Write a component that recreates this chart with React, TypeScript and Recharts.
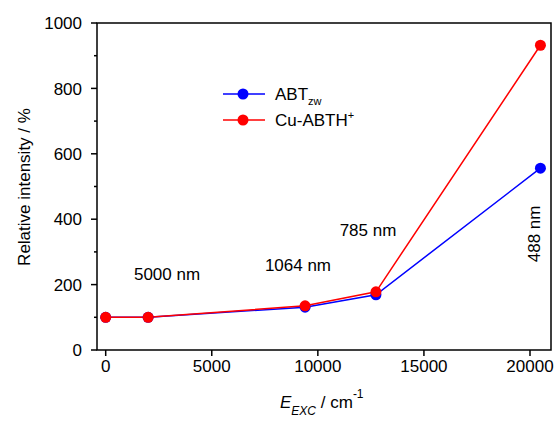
import React from 'react';
import { LineChart, Line, XAxis, YAxis, ReferenceArea, ReferenceDot, Customized } from 'recharts';

const excitation = [0, 2000, 9398, 12739, 20492];
const abtZw = [100, 100, 131, 169, 556];
const cuAbth = [100, 100, 135, 178, 932];
const xTicks = [0, 5000, 10000, 15000, 20000];
const yTicks = [0, 100, 200, 300, 400, 500, 600, 700, 800, 900, 1000];
const yLabelTicks = [0, 200, 400, 600, 800, 1000];
const annoLabels = ['5000 nm', '1064 nm', '785 nm', '488 nm'];
const annoX = [2890, 9063, 12364, 20172];
const annoY = [232, 260, 367, 355];
const annoAngle = [0, 0, 0, -90];

const data = excitation.map((x, i) => ({ x, abt: abtZw[i], cu: cuAbth[i] }));

const FONT = '"Liberation Sans", Arial, sans-serif';
const FS = 17;

const YTick = (props: any) => {
  const { x, y, payload } = props;
  const v = payload.value;
  const major = yLabelTicks.includes(v);
  return (
    <g>
      <line x1={x} x2={x - (major ? 6 : 3)} y1={y} y2={y} stroke="#000" strokeWidth={1.5} />
      {major && (
        <text x={x - 15} y={y} dy="0.36em" textAnchor="end" fontSize={FS} fontFamily={FONT} fill="#000">
          {v}
        </text>
      )}
    </g>
  );
};

const XTick = (props: any) => {
  const { x, y, payload } = props;
  return (
    <g>
      <line x1={x} x2={x} y1={y} y2={y + 6} stroke="#000" strokeWidth={1.5} />
      <text x={x} y={y + 22} textAnchor="middle" fontSize={FS} fontFamily={FONT} fill="#000">
        {payload.value}
      </text>
    </g>
  );
};

const Extras = () => (
  <g fontFamily={FONT} fill="#000">
    {/* Y axis title */}
    <text x={30} y={187} transform="rotate(-90 30 187)" textAnchor="middle" fontSize={FS}>
      Relative intensity / %
    </text>
    {/* X axis title */}
    <text x={280} y={408} fontSize={FS}>
      <tspan fontStyle="italic">E</tspan>
      <tspan fontStyle="italic" fontSize={12} dy={7}>EXC</tspan>
      <tspan dy={-7}> / cm</tspan>
      <tspan fontSize={12} dy={-10}>-1</tspan>
    </text>
    {/* Legend */}
    <line x1={223} x2={265} y1={94} y2={94} stroke="#0000ff" strokeWidth={1.5} />
    <circle cx={243} cy={94} r={5.5} fill="#0000ff" />
    <text x={275} y={100} fontSize={FS}>
      ABT<tspan fontSize={11} dy={5}>zw</tspan>
    </text>
    <line x1={223} x2={265} y1={120} y2={120} stroke="#ff0000" strokeWidth={1.5} />
    <circle cx={243} cy={120} r={5.5} fill="#ff0000" />
    <text x={275} y={126} fontSize={FS}>
      Cu-ABTH<tspan fontSize={11} dy={-7}>+</tspan>
    </text>
  </g>
);

export default function App() {
  return (
    <div style={{ position: 'absolute', left: 0, top: 0, background: '#fff' }}>
      <LineChart
        width={555}
        height={425}
        data={data}
        margin={{ top: 23, right: 4, bottom: 0, left: 0 }}
        style={{ fontFamily: FONT }}
      >
        <XAxis
          dataKey="x"
          type="number"
          domain={[-410, 20990]}
          ticks={xTicks}
          allowDataOverflow
          height={75}
          axisLine={false}
          tickLine={false}
          tickSize={0}
          tickMargin={0}
          tick={<XTick />}
          interval={0}
        />
        <YAxis
          type="number"
          domain={[0, 1000]}
          ticks={yTicks}
          allowDataOverflow
          width={97}
          axisLine={false}
          tickLine={false}
          tickSize={0}
          tickMargin={0}
          tick={<YTick />}
          interval={0}
        />
        <ReferenceArea
          x1={-410}
          x2={20990}
          y1={0}
          y2={1000}
          fill="none"
          fillOpacity={0}
          stroke="#000"
          strokeWidth={1.5}
          ifOverflow="visible"
        />
        <Line
          dataKey="abt"
          stroke="#0000ff"
          strokeWidth={1.5}
          dot={{ r: 5.5, fill: '#0000ff', stroke: 'none' }}
          activeDot={false}
          isAnimationActive={false}
        />
        <Line
          dataKey="cu"
          stroke="#ff0000"
          strokeWidth={1.5}
          dot={{ r: 5.5, fill: '#ff0000', stroke: 'none' }}
          activeDot={false}
          isAnimationActive={false}
        />
        {annoLabels.map((label, i) => (
          <ReferenceDot
            key={label}
            x={annoX[i]}
            y={annoY[i]}
            r={0}
            ifOverflow="visible"
            shape={(p: any) => (
              <text
                x={p.cx}
                y={p.cy}
                dy="0.36em"
                textAnchor="middle"
                fontSize={FS}
                fontFamily={FONT}
                fill="#000"
                transform={annoAngle[i] ? `rotate(${annoAngle[i]} ${p.cx} ${p.cy})` : undefined}
              >
                {label}
              </text>
            )}
          />
        ))}
        <Customized component={<Extras />} />
      </LineChart>
    </div>
  );
}
